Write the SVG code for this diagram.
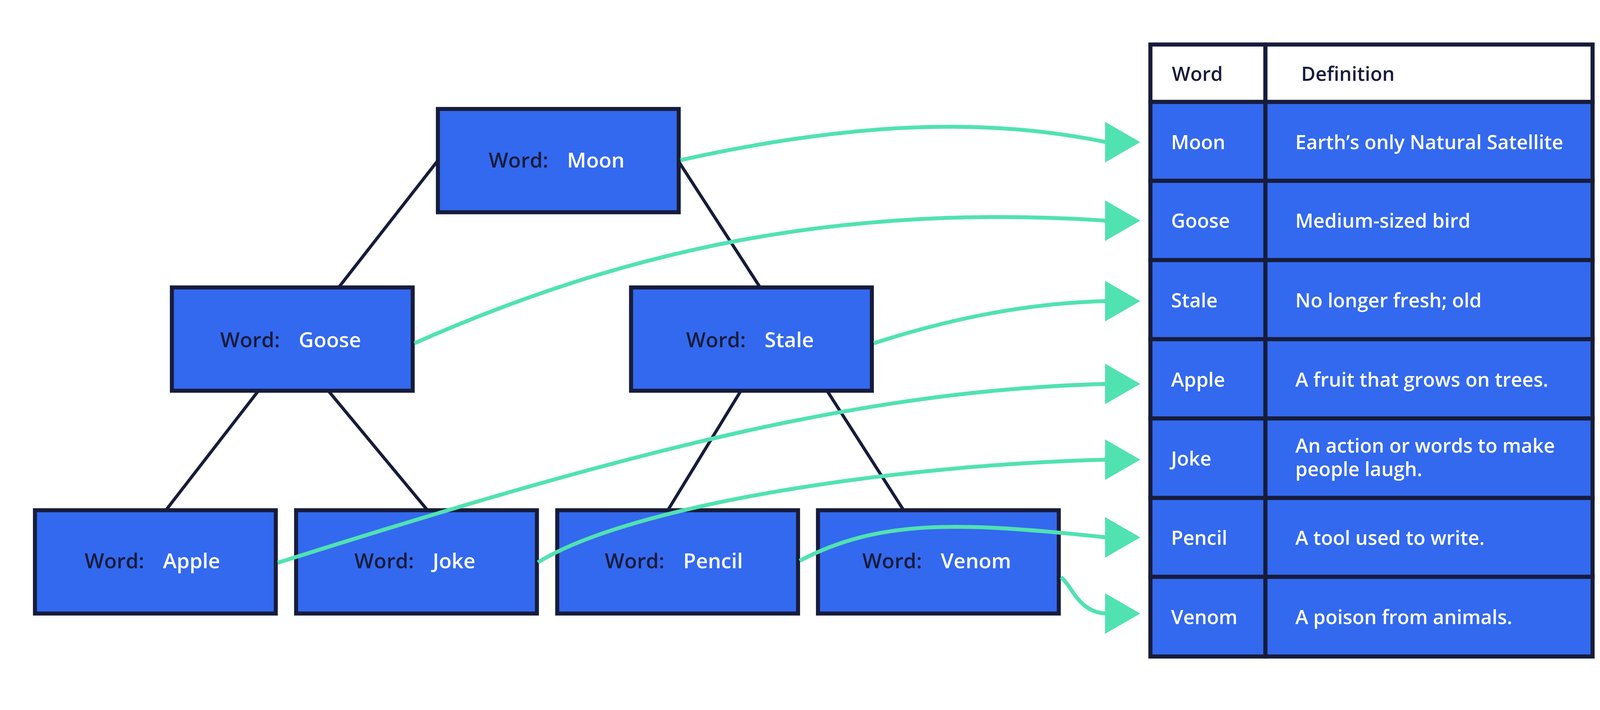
<svg xmlns="http://www.w3.org/2000/svg" xmlns:xlink="http://www.w3.org/1999/xlink" width="4167" height="1818" viewBox="0 0 4167 1818">
<defs>
<style>
.box{fill:#3369ee;stroke:#171c3b;stroke-width:10.3}
.hcell{fill:#ffffff;stroke:#171c3b;stroke-width:10.5}
.cell{fill:#3369ee;stroke:#171c3b;stroke-width:10.5}
.edge{stroke:#171c3b;stroke-width:8;fill:none;stroke-linecap:butt}
.conn{stroke:#51e2b2;stroke-width:10;fill:none}
.ah{fill:#51e2b2}
.lbl{font-family:"Open Sans","Noto Sans","Liberation Sans",sans-serif;font-size:53px;font-weight:600;text-anchor:middle}
.tt{font-family:"Open Sans","Noto Sans","Liberation Sans",sans-serif;font-size:50px;font-weight:600}
.k{fill:#171c3b}
.w{fill:#ffffff}
</style>
<path id="ah" class="ah" d="M0,-52 L90,0 L0,52 Z"/>
</defs>
<rect x="0" y="0" width="4167" height="1818" fill="#ffffff"/>

<g id="tree-edges">
<line class="edge" x1="1121" y1="411" x2="867" y2="736"/>
<line class="edge" x1="1737" y1="413" x2="1946" y2="736"/>
<line class="edge" x1="662" y1="1000" x2="425" y2="1306"/>
<line class="edge" x1="840" y1="1000" x2="1094" y2="1306"/>
<line class="edge" x1="1897" y1="1000" x2="1710" y2="1306"/>
<line class="edge" x1="2117" y1="1000" x2="2313" y2="1306"/>
</g>

<g id="node-moon">
<rect class="box" x="1121" y="279" width="616.5" height="264.5"/>
<text class="lbl" x="1425" y="429"><tspan class="k">Word:</tspan><tspan class="w" dx="48">Moon</tspan></text>
</g>
<g id="node-goose">
<rect class="box" x="440" y="736" width="616.5" height="264.5"/>
<text class="lbl" x="744" y="889"><tspan class="k">Word:</tspan><tspan class="w" dx="48">Goose</tspan></text>
</g>
<g id="node-stale">
<rect class="box" x="1615.5" y="736" width="616.5" height="264.5"/>
<text class="lbl" x="1920" y="889"><tspan class="k">Word:</tspan><tspan class="w" dx="48">Stale</tspan></text>
</g>
<g id="node-apple">
<rect class="box" x="89.5" y="1306.5" width="616.5" height="264.5"/>
<text class="lbl" x="390" y="1455"><tspan class="k">Word:</tspan><tspan class="w" dx="48">Apple</tspan></text>
</g>
<g id="node-joke">
<rect class="box" x="758" y="1306.5" width="616.5" height="264.5"/>
<text class="lbl" x="1062" y="1455"><tspan class="k">Word:</tspan><tspan class="w" dx="48">Joke</tspan></text>
</g>
<g id="node-pencil">
<rect class="box" x="1426.5" y="1306.5" width="616.5" height="264.5"/>
<text class="lbl" x="1725" y="1455"><tspan class="k">Word:</tspan><tspan class="w" dx="48">Pencil</tspan></text>
</g>
<g id="node-venom">
<rect class="box" x="2094" y="1306.5" width="616.5" height="264.5"/>
<text class="lbl" x="2398" y="1455"><tspan class="k">Word:</tspan><tspan class="w" dx="48">Venom</tspan></text>
</g>

<g id="table">
<g id="row-header">
<rect class="hcell" x="2945" y="114" width="294.5" height="147"/>
<rect class="hcell" x="3239.5" y="114" width="837.5" height="147"/>
<text class="tt k" x="3000" y="206.5">Word</text>
<text class="tt k" x="3331" y="206.5">Definition</text>
</g>
<g id="row-moon">
<rect class="cell" x="2945" y="261" width="294.5" height="202"/>
<rect class="cell" x="3239.5" y="261" width="837.5" height="202"/>
<text class="tt w" x="2998" y="381.5">Moon</text>
<text class="tt w" x="3316" y="381.5">Earth’s only Natural Satellite</text>
</g>
<g id="row-goose">
<rect class="cell" x="2945" y="463" width="294.5" height="203"/>
<rect class="cell" x="3239.5" y="463" width="837.5" height="203"/>
<text class="tt w" x="2998" y="583">Goose</text>
<text class="tt w" x="3316" y="583">Medium-sized bird</text>
</g>
<g id="row-stale">
<rect class="cell" x="2945" y="666" width="294.5" height="202.5"/>
<rect class="cell" x="3239.5" y="666" width="837.5" height="202.5"/>
<text class="tt w" x="2998" y="787">Stale</text>
<text class="tt w" x="3316" y="787">No longer fresh; old</text>
</g>
<g id="row-apple">
<rect class="cell" x="2945" y="868.5" width="294.5" height="203"/>
<rect class="cell" x="3239.5" y="868.5" width="837.5" height="203"/>
<text class="tt w" x="2998" y="989.5">Apple</text>
<text class="tt w" x="3316" y="989.5">A fruit that grows on trees.</text>
</g>
<g id="row-joke">
<rect class="cell" x="2945" y="1071.5" width="294.5" height="203.5"/>
<rect class="cell" x="3239.5" y="1071.5" width="837.5" height="203.5"/>
<text class="tt w" x="2998" y="1192">Joke</text>
<text class="tt w" x="3316" y="1158.5">An action or words to make</text>
<text class="tt w" x="3316" y="1219">people laugh.</text>
</g>
<g id="row-pencil">
<rect class="cell" x="2945" y="1275" width="294.5" height="202"/>
<rect class="cell" x="3239.5" y="1275" width="837.5" height="202"/>
<text class="tt w" x="2998" y="1395">Pencil</text>
<text class="tt w" x="3316" y="1395">A tool used to write.</text>
</g>
<g id="row-venom">
<rect class="cell" x="2945" y="1477" width="294.5" height="204"/>
<rect class="cell" x="3239.5" y="1477" width="837.5" height="204"/>
<text class="tt w" x="2998" y="1598">Venom</text>
<text class="tt w" x="3316" y="1598">A poison from animals.</text>
</g>
</g>

<g id="connectors">
<path class="conn" d="M1742,410 C2150,320 2500,295 2832,364"/>
<path class="conn" d="M1061,879 C1600,640 2150,520 2832,565"/>
<path class="conn" d="M2237,879 C2450,810 2650,775 2832,771"/>
<path class="conn" d="M711,1441 C1600,1160 2200,1000 2832,983"/>
<path class="conn" d="M1377,1440 C1620,1290 2300,1190 2832,1177"/>
<path class="conn" d="M2047,1436 C2250,1330 2450,1335 2832,1376"/>
<path class="conn" d="M2716,1478 C2745,1500 2760,1568 2832,1571"/>
<use xlink:href="#ah" href="#ah" x="2829" y="364"/>
<use xlink:href="#ah" href="#ah" x="2829" y="565"/>
<use xlink:href="#ah" href="#ah" x="2829" y="771"/>
<use xlink:href="#ah" href="#ah" x="2829" y="983"/>
<use xlink:href="#ah" href="#ah" x="2829" y="1177"/>
<use xlink:href="#ah" href="#ah" x="2829" y="1376"/>
<use xlink:href="#ah" href="#ah" x="2829" y="1571"/>
</g>
</svg>
